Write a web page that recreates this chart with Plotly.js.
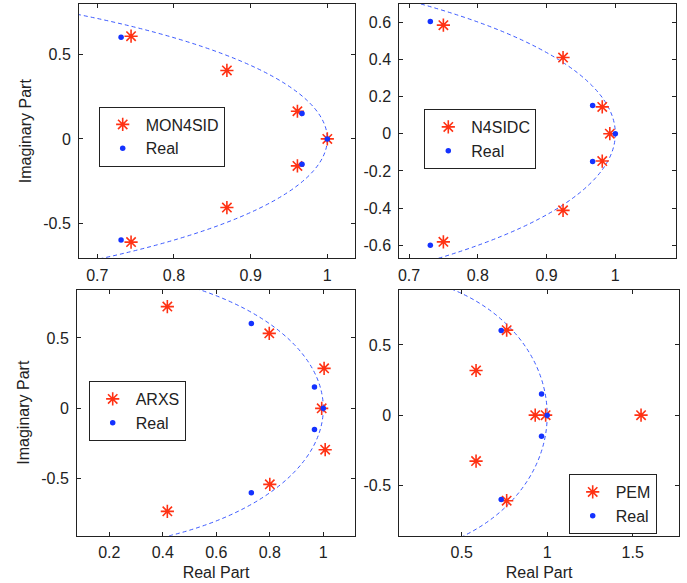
<!DOCTYPE html>
<html>
<head>
<meta charset="utf-8">
<script src="https://cdn.plot.ly/plotly-3.0.1.min.js"></script>
<style>html,body{margin:0;padding:0;background:#fff;}#chart{width:687px;height:583px;}</style>
</head>
<body>
<div id="chart"></div>
<script>
// ---- data ----
const realPolesX = [0.731, 0.967, 1.0, 0.967, 0.731];
const realPolesY = [0.603, 0.151, 0.0, -0.150, -0.600];

const mon4sidX = [0.744, 0.869, 0.961, 1.000, 0.961, 0.869, 0.744];
const mon4sidY = [0.609, 0.406, 0.164, 0.000, -0.160, -0.407, -0.612];

const n4sidcX = [0.750, 0.924, 0.981, 0.992, 0.981, 0.924, 0.750];
const n4sidcY = [0.583, 0.409, 0.144, 0.000, -0.147, -0.412, -0.581];

const arxsX = [0.417, 0.798, 1.003, 0.994, 1.007, 0.800, 0.417];
const arxsY = [0.723, 0.533, 0.284, 0.000, -0.294, -0.540, -0.732];

const pemX = [0.763, 0.584, 0.930, 0.991, 1.549, 0.584, 0.763];
const pemY = [0.605, 0.318, 0.000, 0.000, 0.000, -0.327, -0.609];

const methodNames = ["MON4SID", "N4SIDC", "ARXS", "PEM"];
const realName = "Real";
const unitCircleRadius = 1;

const xTicks1 = [0.7, 0.8, 0.9, 1];      const xText1 = ["0.7", "0.8", "0.9", "1"];
const yTicks1 = [-0.5, 0, 0.5];          const yText1 = ["-0.5", "0", "0.5"];
const xTicks2 = [0.7, 0.8, 0.9, 1];      const xText2 = ["0.7", "0.8", "0.9", "1"];
const yTicks2 = [-0.6, -0.4, -0.2, 0, 0.2, 0.4, 0.6];
const yText2 = ["-0.6", "-0.4", "-0.2", "0", "0.2", "0.4", "0.6"];
const xTicks3 = [0.2, 0.4, 0.6, 0.8, 1];  const xText3 = ["0.2", "0.4", "0.6", "0.8", "1"];
const yTicks3 = [-0.5, 0, 0.5];          const yText3 = ["-0.5", "0", "0.5"];
const xTicks4 = [0.5, 1, 1.5];           const xText4 = ["0.5", "1", "1.5"];
const yTicks4 = [-0.5, 0, 0.5];          const yText4 = ["-0.5", "0", "0.5"];

// ---- styling ----
const W = 687, H = 583;
const FONT = "Liberation Sans, Arial, sans-serif";
const TXT = "#222";
const starColor = "rgb(255,50,20)";
const dotColor = "rgb(20,50,255)";
const circleColor = "rgb(60,90,255)";

const panels = [
  {mx: mon4sidX, my: mon4sidY, name: methodNames[0], xa: "x",  ya: "y",  lg: "legend"},
  {mx: n4sidcX,  my: n4sidcY,  name: methodNames[1], xa: "x2", ya: "y2", lg: "legend2"},
  {mx: arxsX,    my: arxsY,    name: methodNames[2], xa: "x3", ya: "y3", lg: "legend3"},
  {mx: pemX,     my: pemY,     name: methodNames[3], xa: "x4", ya: "y4", lg: "legend4"}
];

const traces = [];
panels.forEach(p => {
  traces.push({
    type: "scatter", mode: "markers", x: p.mx, y: p.my, name: p.name,
    xaxis: p.xa, yaxis: p.ya, legend: p.lg,
    marker: {symbol: "asterisk-open", size: 11, color: starColor, line: {color: starColor, width: 1.6}}
  });
  traces.push({
    type: "scatter", mode: "markers", x: realPolesX, y: realPolesY, name: realName,
    xaxis: p.xa, yaxis: p.ya, legend: p.lg,
    marker: {symbol: "circle", size: 5.5, color: dotColor}
  });
});

function px(x) { return x / W; }
function py(y) { return 1 - y / H; }

function axis(domainPx, range, tv, tt, isY, title) {
  const a = {
    domain: isY ? [py(domainPx[1]), py(domainPx[0])] : [px(domainPx[0]), px(domainPx[1])],
    range: range, autorange: false,
    tickmode: "array", tickvals: tv, ticktext: tt,
    ticks: "inside", ticklen: 4, tickwidth: 1, tickcolor: "#222",
    showline: true, linecolor: "#222", linewidth: 1, mirror: "allticks",
    showgrid: false, zeroline: false,
    tickfont: {family: FONT, size: 16, color: TXT},
    ticklabelstandoff: isY ? 4 : 2
  };
  if (title) a.title = {text: title, font: {family: FONT, size: 16, color: TXT}, standoff: isY ? 7 : 6};
  return a;
}

function legend(xPx, yPx) {
  return {
    x: px(xPx), y: py(yPx), xanchor: "left", yanchor: "top",
    bgcolor: "#fff", bordercolor: "#222", borderwidth: 1,
    font: {family: FONT, size: 16, color: TXT},
    tracegroupgap: 0, itemwidth: 36
  };
}

function circleShape(xr, yr) {
  return {
    type: "circle", xref: xr, yref: yr,
    x0: -unitCircleRadius, x1: unitCircleRadius, y0: -unitCircleRadius, y1: unitCircleRadius,
    line: {color: circleColor, width: 1, dash: "4px,3px"}, layer: "below"
  };
}

const layout = {
  width: W, height: H,
  margin: {l: 0, r: 0, t: 0, b: 0},
  paper_bgcolor: "#fff", plot_bgcolor: "#fff",
  font: {family: FONT, size: 16, color: TXT},
  xaxis:  axis([79, 355], [0.6761, 1.0361], xTicks1, xText1, false, null),
  yaxis:  axis([4, 258.3], [-0.708, 0.800], yTicks1, yText1, true, "Imaginary Part"),
  xaxis2: axis([399.3, 675.7], [0.6859, 1.0878], xTicks2, xText2, false, null),
  yaxis2: axis([4, 258.3], [-0.6695, 0.6967], yTicks2, yText2, true, null),
  xaxis3: axis([77, 355], [0.0793, 1.1185], xTicks3, xText3, false, "Real Part"),
  yaxis3: axis([289.7, 535.7], [-0.905, 0.843], yTicks3, yText3, true, "Imaginary Part"),
  xaxis4: axis([399.3, 679], [0.135, 1.771], xTicks4, xText4, false, "Real Part"),
  yaxis4: axis([289.7, 535.7], [-0.858, 0.893], yTicks4, yText4, true, null),
  legend:  legend(98.7, 106.5),
  legend2: legend(424.3, 109),
  legend3: legend(88.7, 381),
  legend4: legend(568.7, 474),
  shapes: [circleShape("x", "y"), circleShape("x2", "y2"), circleShape("x3", "y3"), circleShape("x4", "y4")]
};
layout.xaxis.anchor = "y";   layout.yaxis.anchor = "x";
layout.xaxis2.anchor = "y2"; layout.yaxis2.anchor = "x2";
layout.xaxis3.anchor = "y3"; layout.yaxis3.anchor = "x3";
layout.xaxis4.anchor = "y4"; layout.yaxis4.anchor = "x4";

Plotly.newPlot("chart", traces, layout, {staticPlot: true, displayModeBar: false});
</script>
</body>
</html>
